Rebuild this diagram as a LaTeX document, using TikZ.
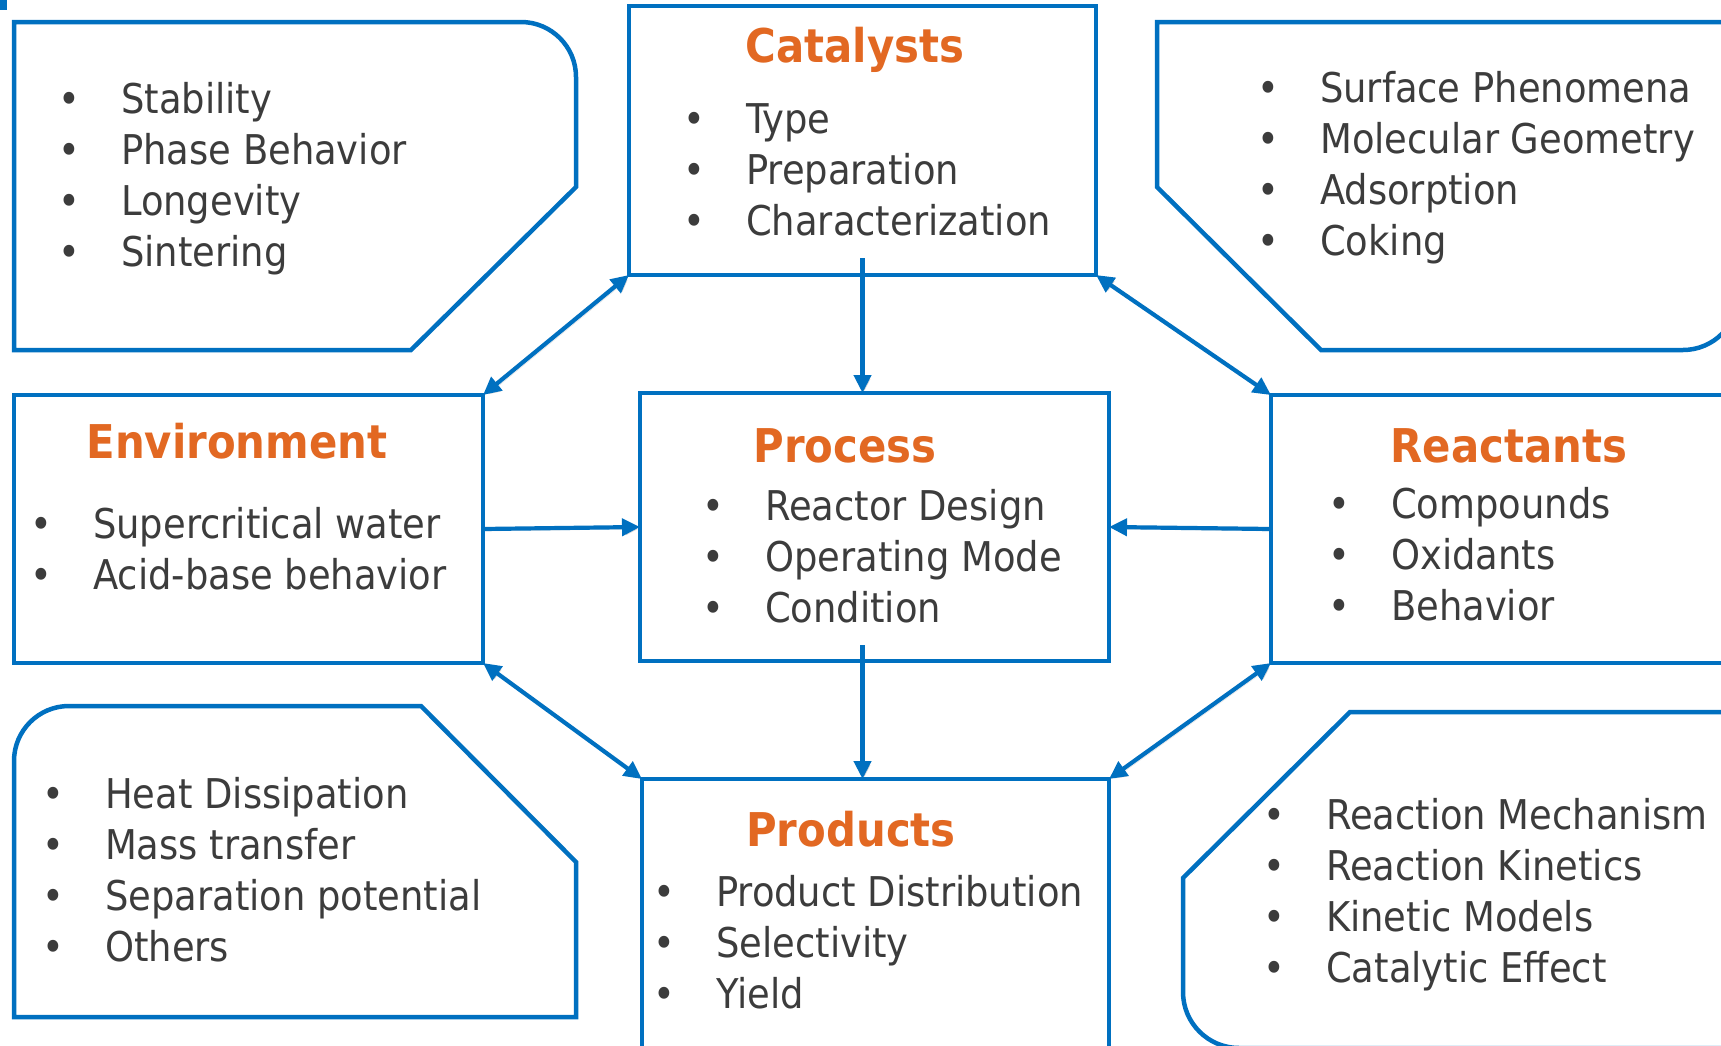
\documentclass[tikz,border=0pt]{standalone}
\usepackage{fontspec}
\setmainfont{DejaVu Sans Condensed}[BoldFont={DejaVu Sans Condensed Bold}]
\usetikzlibrary{arrows.meta}
\definecolor{lineblue}{RGB}{0,112,192}
\definecolor{headorange}{RGB}{226,104,34}
\definecolor{bodygray}{RGB}{60,60,60}
% one bulleted line: bullet centred in a 104bp slot, text after it
\newcommand\bitem[1]{\makebox[104bp]{•}#1}
\newcommand\blist[1]{\begin{tabular}[t]{@{}l@{}}#1\end{tabular}}
\tikzset{
  panel/.style={draw=lineblue, line width=4.5bp},
  box/.style={draw=lineblue, line width=4.5bp, outer sep=0pt, inner sep=0pt},
  head/.style={text=headorange, font=\bfseries\fontsize{46.5bp}{50bp}\selectfont,
               anchor=base, inner sep=0pt},
  items/.style={text=bodygray, font=\fontsize{41bp}{51.3bp}\selectfont,
                anchor=base west, inner sep=0pt},
  shade/.style={preaction={draw=black!40, opacity=.3,
                transform canvas={shift={(2bp,-2bp)}}}},
  link/.style={draw=lineblue, line width=4.2bp, shade,
               -{Triangle[length=18bp,width=17bp]}},
  duallink/.style={draw=lineblue, line width=4.2bp, shade,
               {Triangle[length=18bp,width=17bp]}-{Triangle[length=18bp,width=17bp]}}
}
\begin{document}
\begin{tikzpicture}[x=1bp, y=-1bp]
\useasboundingbox (0,0) rectangle (1721,1045);
\clip (0,0) rectangle (1721,1045);
\fill[white] (0,0) rectangle (1721,1045);
\fill[lineblue] (0,0) rectangle (7,10);

% outer panels
\draw[panel] (14,350) -- (14,22) -- (521,22)
  arc[start angle=90, end angle=0, radius=55bp] -- (576,187) -- (411,350) -- cycle;
\draw[panel] (1157,187) -- (1157,22) -- (1738,22) -- (1738,295)
  arc[start angle=0, end angle=-90, radius=55bp] -- (1321,350) -- cycle;
\draw[panel] (14,1017) -- (14,761)
  arc[start angle=180, end angle=90, radius=55bp] -- (421,706) -- (576,862) -- (576,1017) -- cycle;
\draw[panel] (1760,712) -- (1350,712) -- (1183,878) -- (1183,992)
  arc[start angle=180, end angle=270, radius=56bp] -- (1760,1048);

% main boxes
\node[box, minimum width=467bp, minimum height=269bp] (cat)   at (862.5,140.5) {};
\node[box, minimum width=469bp, minimum height=268bp] (proc)  at (874.5,527) {};
\node[box, minimum width=469bp, minimum height=268bp] (env)   at (248.5,529) {};
\node[box, minimum width=470bp, minimum height=268bp] (react) at (1506,529) {};
\node[box, minimum width=467bp, minimum height=271bp] (prod)  at (875.5,914.5) {};

% headings
\node[head] (catT)   at (855,62)   {Catalysts};
\node[head] (envT)   at (237,458)  {Environment};
\node[head] (procT)  at (845,462)  {Process};
\node[head] (reactT) at (1509,462) {Reactants};
\node[head] (prodT)  at (851,846)  {Products};

% bullet lists
\node[items] (tlL) at (17,113)
  {\blist{\bitem{Stability}\\\bitem{Phase Behavior}\\\bitem{Longevity}\\\bitem{Sintering}}};
\node[items] (catL) at (642,133)
  {\blist{\bitem{Type}\\\bitem{Preparation}\\\bitem{Characterization}}};
\node[items] (trL) at (1216,102)
  {\blist{\bitem{Surface Phenomena}\\\bitem{Molecular Geometry}\\\bitem{Adsorption}\\\bitem{Coking}}};
\node[items] (envL) at (-11,538)
  {\blist{\bitem{Supercritical water}\\\bitem{Acid-base behavior}}};
\node[items] (procL) at (661,520)
  {\blist{\bitem{Reactor Design}\\\bitem{Operating Mode}\\\bitem{Condition}}};
\node[items] (reactL) at (1287,518)
  {\blist{\bitem{Compounds}\\\bitem{Oxidants}\\\bitem{Behavior}}};
\node[items] (blL) at (1,808)
  {\blist{\bitem{Heat Dissipation}\\\bitem{Mass transfer}\\\bitem{Separation potential}\\\bitem{Others}}};
\node[items] (prodL) at (612,906)
  {\blist{\bitem{Product Distribution}\\\bitem{Selectivity}\\\bitem{Yield}}};
\node[items] (brL) at (1222,829)
  {\blist{\bitem{Reaction Mechanism}\\\bitem{Reaction Kinetics}\\\bitem{Kinetic Models}\\\bitem{Catalytic Effect}}};

% connectors
\draw[duallink] (env.north east) -- (cat.south west);
\draw[duallink] (cat.south east) -- (react.north west);
\draw[link] ([yshift=17bp]cat.south) -- (cat.south |- proc.north);
\draw[link] (env.east) -- (proc.west);
\draw[link] (react.west) -- (proc.east);
\coordinate (pfoot) at (proc.south -| cat.south);
\draw[link] ([yshift=16bp]pfoot) -- (pfoot |- prod.north);
\draw[duallink] (env.south east) -- (prod.north west);
\draw[duallink] (react.south west) -- (prod.north east);
\end{tikzpicture}
\end{document}
